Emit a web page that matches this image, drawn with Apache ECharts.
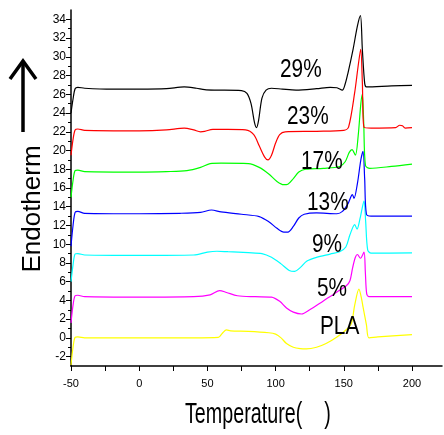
<!DOCTYPE html>
<html>
<head>
<meta charset="utf-8">
<script src="https://cdn.jsdelivr.net/npm/echarts@6/dist/echarts.min.js"></script>
<style>
html, body { margin: 0; padding: 0; background: #fff; }
#main { width: 444px; height: 435px; }
</style>
</head>
<body>
<div id="main"></div>
<script>
// tick values
var xTicks = [-50, -25, 0, 25, 50, 75, 100, 125, 150, 175, 200];
var xLabels = [-50, 0, 50, 100, 150, 200];
var yLabels = [-2, 0, 2, 4, 6, 8, 10, 12, 14, 16, 18, 20, 22, 24, 26, 28, 30, 32, 34];
var yMinor = [-1, 1, 3, 5, 7, 9, 11, 13, 15, 17, 19, 21, 23, 25, 27, 29, 31, 33];

// DSC curves, [temperature, heat flow]
var s29 = [[-50, 24.0], [-48.5, 25.5], [-47, 26.6], [-45, 26.75], [-40, 26.65], [-20, 26.55], [0, 26.55], [20, 26.6],
    [33, 26.8], [42, 26.65], [48, 26.5], [55, 26.45], [75, 26.4], [79, 26.1], [82, 25.0], [84.5, 23.0], [86, 22.45],
    [87.5, 23.2], [90, 25.6], [93, 26.45], [97, 26.65], [105, 26.55], [115, 26.45], [130, 26.6], [140, 26.75],
    [145, 26.7], [148.9, 26.45], [151, 27.1], [153.1, 28.3], [156.8, 30.8], [160, 33.3], [162.2, 34.4], [163.6, 30.8],
    [165.3, 27.2], [166.5, 26.8], [185, 26.9], [200, 26.95]];
var s23 = [[-50, 19.5], [-48.5, 21.2], [-47, 22.2], [-45, 22.3], [-40, 22.15], [0, 22.1], [20, 22.2], [33, 22.4],
    [40, 22.2], [45, 22.0], [48, 22.05], [54, 22.25], [65, 22.25], [78, 22.2], [84, 21.7], [88, 20.5], [92, 19.3],
    [94.4, 19.0], [97, 19.5], [100, 20.8], [103, 21.7], [107, 22.0], [130, 22.05], [150, 22.15], [153.5, 22.5],
    [158, 26.2], [160.5, 29.0], [162.4, 30.8], [163.6, 27.3], [164.9, 22.45], [170, 22.4], [188, 22.45], [191, 22.7],
    [193, 22.65], [195, 22.4], [200, 22.45]];
var s17 = [[-50, 15.0], [-48.5, 16.8], [-47, 17.85], [-45, 17.9], [-40, 17.75], [0, 17.7], [20, 17.75], [35, 17.85],
    [45, 18.2], [52, 18.6], [60, 18.65], [80, 18.6], [88, 18.2], [95, 17.5], [101, 16.7], [106, 16.35], [109, 16.4],
    [113, 17.0], [117, 17.7], [122, 18.0], [135, 18.1], [147, 18.3], [151, 18.8], [154, 19.8], [156, 20.1],
    [158.5, 19.5], [160.5, 21.5], [162.5, 25.0], [163.6, 26.0], [164.6, 23.0], [165.9, 18.4], [169, 18.1],
    [185, 18.3], [200, 18.55]];
var s13 = [[-50, 9.8], [-48.5, 12.0], [-47, 13.4], [-45, 13.5], [-40, 13.3], [0, 13.25], [30, 13.3], [45, 13.4],
    [53, 13.65], [60, 13.45], [75, 13.2], [88, 12.95], [95, 12.4], [101, 11.7], [106, 11.3], [109, 11.3], [113, 11.9],
    [117, 12.8], [121, 13.2], [130, 13.35], [145, 13.25], [149, 13.5], [153, 14.3], [156.3, 15.3], [157.5, 14.9],
    [160, 16.5], [162.5, 19.0], [164.1, 19.9], [165.3, 17.0], [166.6, 13.2], [170, 13.0], [200, 13.0]];
var s9 = [[-50, 6.0], [-48.5, 7.8], [-47, 8.95], [-45, 9.0], [-40, 8.85], [0, 8.8], [40, 8.85], [50, 9.15], [57, 9.25],
    [65, 9.2], [80, 9.1], [90, 9.0], [97, 8.6], [104, 7.9], [110, 7.2], [114, 7.1], [118, 7.5], [123, 8.2], [130, 8.6],
    [140, 8.95], [147, 9.2], [151.5, 9.7], [154.5, 11.0], [158, 12.1], [159.7, 11.6], [162, 12.8], [164.8, 14.6],
    [166, 12.5], [167.5, 9.4], [170, 9.05], [200, 9.07]];
var s5 = [[-50, 1.6], [-48.5, 3.5], [-47, 4.5], [-45, 4.55], [-40, 4.4], [0, 4.35], [40, 4.4], [52, 4.6], [59, 5.05],
    [64, 4.85], [72, 4.5], [85, 4.4], [97, 4.35], [103, 3.9], [108, 3.2], [113, 2.75], [119, 2.55], [125, 3.0],
    [135, 3.95], [145, 4.9], [152, 5.6], [154.5, 6.1], [156.5, 7.5], [158.5, 8.6], [160, 8.9], [162.2, 8.5],
    [164.8, 9.15], [165.8, 7.0], [166.8, 4.7], [168.5, 4.4], [200, 4.4]];
var sPLA = [[-50, -2.9], [-48.5, -1.0], [-47, 0.05], [-45, 0.1], [-40, 0.0], [0, 0.0], [40, 0.0], [58, 0.05], [61, 0.5],
    [64, 0.85], [67, 0.75], [80, 0.7], [95, 0.55], [100, 0.4], [104, 0.0], [108, -0.6], [113, -1.0], [118, -1.15],
    [122.6, -1.18], [130, -1.0], [137, -0.6], [145, 0.1], [152, 0.9], [155.5, 1.5], [158, 3.5], [161.1, 5.2],
    [163, 4.2], [164.1, 3.3], [166.6, 1.4], [168.5, 0.0], [175, 0.1], [200, 0.35]];

var curveData = [s29, s23, s17, s13, s9, s5, sPLA];
var curveNames = ['29%', '23%', '17%', '13%', '9%', '5%', 'PLA'];
var curveColors = ['#000000', '#ff0000', '#00ff00', '#0000ff', '#00ffff', '#ff00ff', '#ffff00'];

var sans = '"Liberation Sans", Arial, sans-serif';
var labelPos = [[280, 70], [287, 117], [301, 162], [307, 203], [312, 245], [317, 289], [320, 327]];

var series = [];
var texts = [];
for (var i = 0; i < curveData.length; i++) {
    series.push({
        name: curveNames[i],
        type: 'line',
        data: curveData[i],
        smooth: 0.3,
        showSymbol: false,
        lineStyle: { color: curveColors[i], width: 1.2 },
        z: 10 - i
    });
    texts.push({
        type: 'text',
        x: labelPos[i][0],
        y: labelPos[i][1],
        scaleX: 0.8,
        style: { text: curveNames[i], font: '26px ' + sans, fill: '#000', verticalAlign: 'middle' },
        z: 100
    });
}

// axis title, arrow
texts.push({
    type: 'text', x: 185, y: 415, scaleX: 0.68,
    style: { text: 'Temperature(    )', font: '29px ' + sans, fill: '#000', verticalAlign: 'middle' }
});
texts.push({
    type: 'text', x: 33, y: 209, rotation: Math.PI / 2,
    style: { text: 'Endotherm', font: '26px ' + sans, fill: '#000', align: 'center', verticalAlign: 'middle' }
});
texts.push({
    type: 'polyline',
    shape: { points: [[10, 79], [23, 61], [36, 79]] },
    style: { stroke: '#000', lineWidth: 3.5, fill: null }
});
texts.push({
    type: 'line',
    shape: { x1: 23, y1: 62, x2: 23, y2: 132 },
    style: { stroke: '#000', lineWidth: 3.5 }
});

var myChart = echarts.init(document.getElementById('main'));
var option = {
    backgroundColor: '#fff',
    animation: false,
    grid: { left: 71, top: 10, right: 2, bottom: 69 },
    xAxis: {
        type: 'value',
        min: -50,
        max: 222,
        axisLine: { onZero: false, lineStyle: { color: '#000', width: 1.5 } },
        axisTick: { customValues: xTicks, length: 5, lineStyle: { color: '#000', width: 1 } },
        axisLabel: { customValues: xLabels, margin: 12, color: '#000', fontSize: 11, fontFamily: sans },
        splitLine: { show: false }
    },
    yAxis: [{
        type: 'value',
        min: -3,
        max: 35,
        position: 'left',
        axisLine: { onZero: false, lineStyle: { color: '#000', width: 1.5 } },
        axisTick: { customValues: yLabels, length: 5, lineStyle: { color: '#000', width: 1 } },
        axisLabel: { customValues: yLabels, margin: 5, color: '#000', fontSize: 12, fontFamily: sans },
        splitLine: { show: false }
    }, {
        type: 'value',
        min: -3,
        max: 35,
        position: 'left',
        axisLine: { show: false, onZero: false },
        axisTick: { customValues: yMinor, length: 3, lineStyle: { color: '#000', width: 1 } },
        axisLabel: { show: false },
        splitLine: { show: false }
    }],
    graphic: texts,
    series: series
};
myChart.setOption(option);
</script>
</body>
</html>
